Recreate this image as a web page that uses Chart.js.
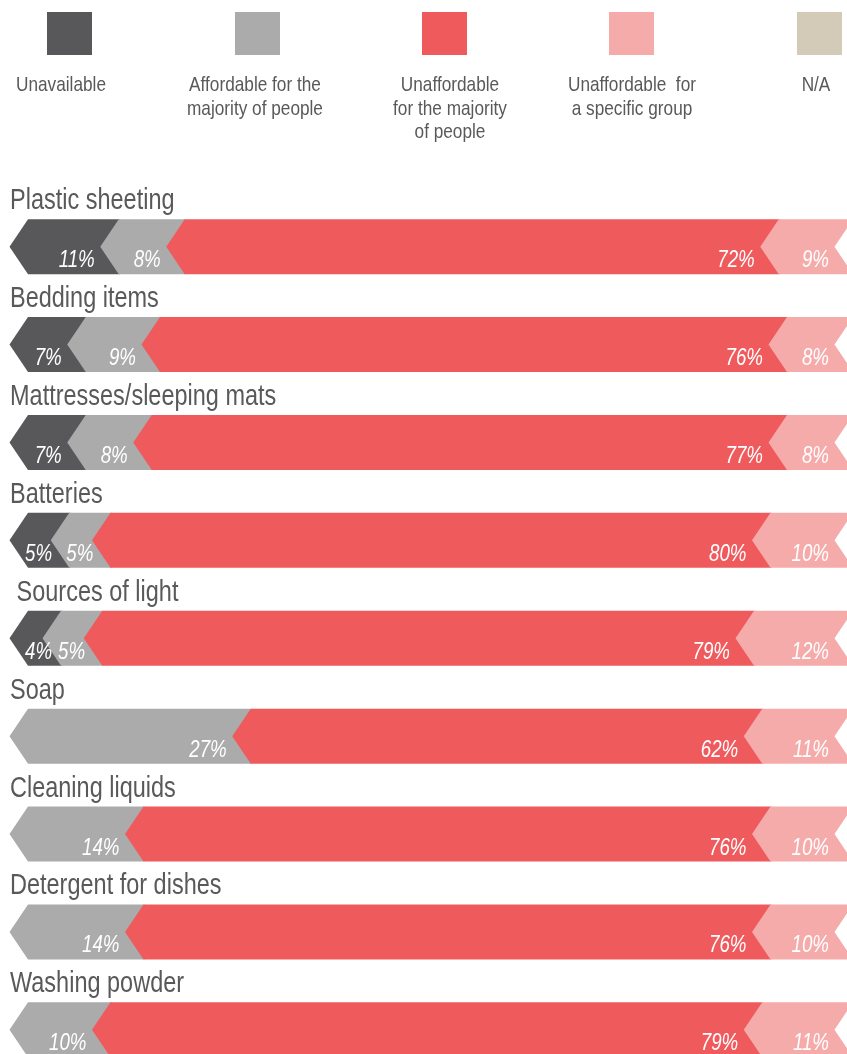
<!DOCTYPE html>
<html>
<head>
<meta charset="utf-8">
<script src="https://cdn.jsdelivr.net/npm/chart.js@4.4.1/dist/chart.umd.min.js"></script>
<style>
  html, body { margin: 0; padding: 0; background: #ffffff; }
  #wrap { position: relative; width: 847px; height: 1054px; overflow: hidden; }
  #chart { position: absolute; left: 0; top: 0; }
  .lbox { position: absolute; top: 12px; width: 45px; height: 43px; }
  .ltext { position: absolute; top: 72px; width: 220px; text-align: center;
           font-family: "Liberation Sans", Arial, sans-serif; font-size: 21px; line-height: 23.7px;
           color: #595959; transform: scaleX(0.82); transform-origin: 50% 0; white-space: nowrap; }
</style>
</head>
<body>
<div id="wrap">
  <canvas id="chart" width="880" height="1100"></canvas>
  <div id="legend"></div>
</div>
<script>
// ---- data ----
const categories = ["Plastic sheeting", "Bedding items", "Mattresses/sleeping mats", "Batteries",
  " Sources of light", "Soap", "Cleaning liquids", "Detergent for dishes", "Washing powder"];
const seriesNames = ["Unavailable", "Affordable for the majority of people",
  "Unaffordable for the majority of people", "Unaffordable for a specific group", "N/A"];
const legendLines = [["Unavailable"], ["Affordable for the", "majority of people"],
  ["Unaffordable", "for the majority", "of people"], ["Unaffordable\u00a0 for", "a specific group"], ["N/A"]];
const unavailable          = [11, 7, 7, 5, 4, 0, 0, 0, 0];
const affordable           = [8, 9, 8, 5, 5, 27, 14, 14, 10];
const unaffordableMajority = [72, 76, 77, 80, 79, 62, 76, 76, 79];
const unaffordableGroup    = [9, 8, 8, 10, 12, 11, 10, 10, 11];
const notApplicable        = [0, 0, 0, 0, 0, 0, 0, 0, 0];
const seriesColors = ["#58585a", "#ababab", "#ef5a5d", "#f6abab", "#d3cbb8"];

// ---- legend (HTML) ----
const legendBoxLeft = [47, 235, 422, 609, 797];
const legendTextCenter = [60.5, 255, 450, 632, 816];
const legendEl = document.getElementById('legend');
seriesNames.forEach((name, i) => {
  const b = document.createElement('div');
  b.className = 'lbox';
  b.style.left = legendBoxLeft[i] + 'px';
  b.style.background = seriesColors[i];
  legendEl.appendChild(b);
  const t = document.createElement('div');
  t.className = 'ltext';
  t.style.left = (legendTextCenter[i] - 110) + 'px';
  t.innerHTML = legendLines[i].join('<br>');
  legendEl.appendChild(t);
});

// ---- chevron renderer ----
const DEPTH = 18.5;
const chevronPlugin = {
  id: 'chevrons',
  beforeDatasetsDraw(chart) {
    const ctx = chart.ctx;
    const metas = chart.getSortedVisibleDatasetMetas();
    const n = categories.length;
    // find last nonzero segment per row
    const lastIdx = [];
    for (let r = 0; r < n; r++) {
      let li = -1;
      chart.data.datasets.forEach((ds, di) => { if (ds.data[r] > 0) li = di; });
      lastIdx.push(li);
    }
    metas.forEach((meta) => {
      const di = meta.index;
      meta.data.forEach((el, r) => {
        const p = el.getProps(['x', 'y', 'base', 'height'], true);
        const x0 = Math.min(p.x, p.base), x1 = Math.max(p.x, p.base);
        if (x1 - x0 < 0.5) return;
        const top = p.y - p.height / 2, bot = p.y + p.height / 2, mid = p.y;
        ctx.save();
        ctx.fillStyle = chart.data.datasets[di].backgroundColor;
        ctx.beginPath();
        ctx.moveTo(x0, top);
        if (di === lastIdx[r]) {
          ctx.lineTo(x1, top);
          ctx.lineTo(x1 - DEPTH, mid);
          ctx.lineTo(x1, bot);
        } else {
          ctx.lineTo(x1 + 1, top);
          ctx.lineTo(x1 + 1, bot);
        }
        ctx.lineTo(x0, bot);
        ctx.lineTo(x0 - DEPTH, mid);
        ctx.closePath();
        ctx.fill();
        ctx.restore();
      });
    });
    // value labels
    metas.forEach((meta) => {
      const di = meta.index;
      meta.data.forEach((el, r) => {
        const v = chart.data.datasets[di].data[r];
        if (!(v > 0)) return;
        const p = el.getProps(['x', 'y', 'base', 'height'], true);
        const x0 = Math.min(p.x, p.base), x1 = Math.max(p.x, p.base);
        const bot = p.y + p.height / 2;
        const txt = v + '%';
        const sx = 0.78;
        ctx.save();
        ctx.font = 'italic 24px "Liberation Sans", Arial, sans-serif';
        const w = ctx.measureText(txt).width * sx;
        const right = Math.max(x1 - 24, x0 - 3 + w);
        ctx.translate(right, bot - 7);
        ctx.scale(sx, 1);
        ctx.fillStyle = '#ffffff';
        ctx.textAlign = 'right';
        ctx.textBaseline = 'alphabetic';
        ctx.fillText(txt, 0, 0);
        ctx.restore();
      });
    });
    // category titles
    const yScale = chart.scales.y;
    const h = metas[0].data[0].height;
    categories.forEach((c, i) => {
      const yc = yScale.getPixelForValue(i);
      ctx.save();
      ctx.font = '29px "Liberation Sans", Arial, sans-serif';
      ctx.translate(10, yc - h / 2 - 10);
      ctx.scale(0.81, 1);
      ctx.fillStyle = '#595959';
      ctx.textAlign = 'left';
      ctx.textBaseline = 'alphabetic';
      ctx.fillText(c, 0, 0);
      ctx.restore();
    });
    return false;
  }
};

const seriesData = [unavailable, affordable, unaffordableMajority, unaffordableGroup, notApplicable];

new Chart(document.getElementById('chart'), {
  type: 'bar',
  data: {
    labels: categories,
    datasets: seriesNames.map((name, i) => ({
      label: name,
      data: seriesData[i],
      backgroundColor: seriesColors[i],
      barThickness: 55
    }))
  },
  options: {
    indexAxis: 'y',
    responsive: false,
    animation: false,
    devicePixelRatio: 1,
    layout: { padding: { left: 28, right: 27, top: 197.7, bottom: 21.2 } },
    scales: {
      x: { stacked: true, min: 0, max: 100, display: false },
      y: { stacked: true, display: false }
    },
    plugins: { legend: { display: false }, tooltip: { enabled: false } }
  },
  plugins: [chevronPlugin]
});
</script>
</body>
</html>
